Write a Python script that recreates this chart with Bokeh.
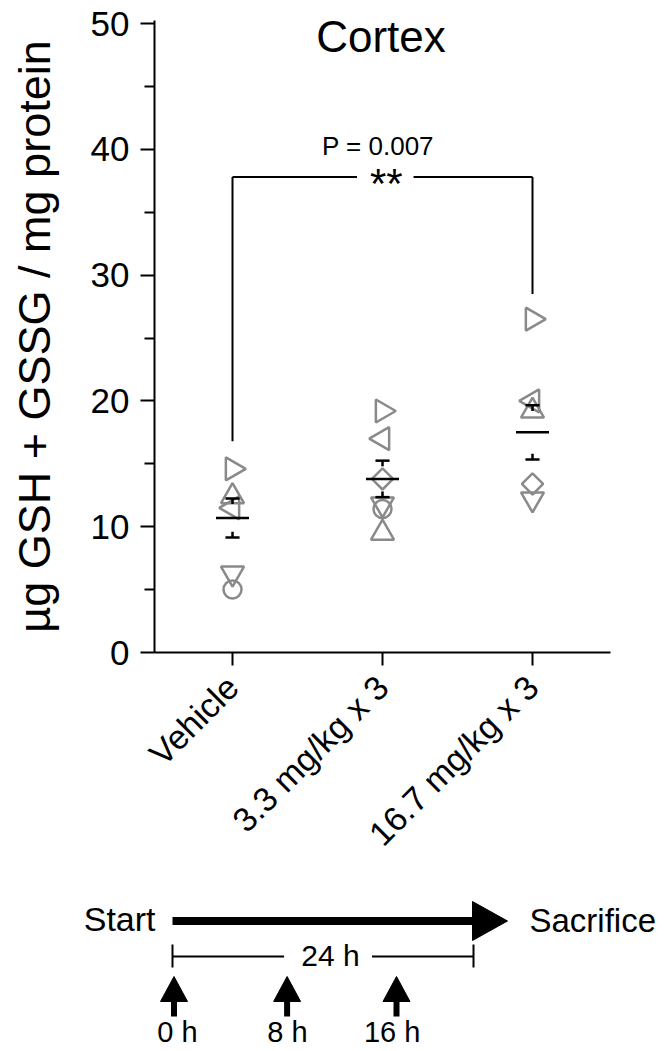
import math
from bokeh.plotting import figure
from bokeh.models import Range1d, FixedTicker, ColumnDataSource, BoxAnnotation
from bokeh.core.properties import value, field
from bokeh.embed import file_html
from bokeh.resources import INLINE

FONT = "Liberation Sans"

# ---------------- data ----------------
groups = ["Vehicle", "3.3 mg/kg x 3", "16.7 mg/kg x 3"]
group_pos = [1, 2, 3]

vehicle_vals = [14.6, 12.4, 11.5, 6.3, 5.0]
vehicle_shape = ["right", "up", "left", "down", "circle"]
low_vals = [19.2, 17.0, 13.8, 11.8, 11.4, 9.5]
low_shape = ["right", "left", "diamond", "down", "circle", "up"]
high_vals = [26.5, 20.0, 19.2, 13.4, 12.2]
high_shape = ["right", "left", "up", "diamond", "down"]

group_mean = [10.7, 13.8, 17.5]
group_sem = [1.55, 1.45, 2.15]

y_ticks = [0, 10, 20, 30, 40, 50]
y_minor = [5, 15, 25, 35, 45]
y_label = "\u00b5g GSH + GSSG / mg protein"
title_text = "Cortex"

p_text = "P = 0.007"
star_text = "**"
bracket_top = 37.8
bracket_left_low = 16.8
bracket_right_low = 28.5

start_label = "Start"
end_label = "Sacrifice"
span_label = "24 h"
dose_labels = ["0 h", "8 h", "16 h"]

# ---------------- styling ----------------
GRAY = "#8a8a8a"
shape_style = {
    "right": ("triangle", -math.pi / 2, 23),
    "left": ("triangle", math.pi / 2, 23),
    "up": ("triangle", 0.0, 23),
    "down": ("inverted_triangle", 0.0, 23),
    "circle": ("circle", 0.0, 18),
    "diamond": ("square", math.pi / 4, 15),
}

xs, ys, mk, ang, sz = [], [], [], [], []
for pos, vals, shapes in zip(group_pos, [vehicle_vals, low_vals, high_vals],
                             [vehicle_shape, low_shape, high_shape]):
    for v, s in zip(vals, shapes):
        m, a, size = shape_style[s]
        xs.append(pos); ys.append(v); mk.append(m); ang.append(a); sz.append(size)
pts = ColumnDataSource(dict(x=xs, y=ys, marker=mk, angle=ang, size=sz))

W = 660
H_MAIN = 876
FRAME_TOP, FRAME_BOTTOM = 20, 652
p = figure(width=W, height=H_MAIN, x_range=Range1d(0.48, 3.52),
           y_range=Range1d(0, 50.24), output_backend="svg", toolbar_location=None)
p.min_border_left = 154
p.min_border_right = W - 610
p.min_border_top = FRAME_TOP
p.min_border_bottom = H_MAIN - FRAME_BOTTOM
p.outline_line_color = None
p.grid.visible = False

yax = p.yaxis[0]
yax.ticker = FixedTicker(ticks=y_ticks, minor_ticks=y_minor)
yax.axis_label = y_label
yax.axis_line_width = 2
yax.major_tick_line_width = 2
yax.minor_tick_line_width = 2
yax.major_tick_out = 14
yax.major_tick_in = 0
yax.minor_tick_out = 10
yax.minor_tick_in = 0
yax.major_label_standoff = 11
yax.major_label_text_font = FONT
yax.major_label_text_font_size = "35px"
yax.major_label_text_color = "black"
yax.axis_label_text_font = FONT
yax.axis_label_text_font_size = "45px"
yax.axis_label_text_font_style = "normal"
yax.axis_label_text_color = "black"
yax.axis_label_standoff = 28

xax = p.xaxis[0]
xax.ticker = FixedTicker(ticks=group_pos, minor_ticks=[])
xax.major_label_overrides = {pos: g for pos, g in zip(group_pos, groups)}
xax.axis_line_width = 2
xax.major_tick_line_width = 2
xax.major_tick_out = 13
xax.major_tick_in = 0
xax.minor_tick_out = 0
xax.minor_tick_in = 0
xax.major_label_orientation = math.pi / 4
xax.major_label_standoff = 16
xax.major_label_text_font = FONT
xax.major_label_text_font_size = "34px"
xax.major_label_text_color = "black"

# small axis extensions past the origin (the two axes cross)
p.add_layout(BoxAnnotation(left=140, right=154, top=651, bottom=653,
                           left_units="canvas", right_units="canvas",
                           top_units="canvas", bottom_units="canvas",
                           fill_color="black", fill_alpha=1, line_color=None))
p.add_layout(BoxAnnotation(left=153, right=155, top=651, bottom=663,
                           left_units="canvas", right_units="canvas",
                           top_units="canvas", bottom_units="canvas",
                           fill_color="black", fill_alpha=1, line_color=None))

# individual points
p.scatter("x", "y", source=pts, marker=field("marker"), angle=field("angle"),
          size=field("size"), fill_color=None, line_color=GRAY, line_width=2.5)

# mean and SEM
MEAN_HW = 0.11
CAP_HW = 0.047
STEM = 0.45
p.segment(x0=[g - MEAN_HW for g in group_pos], x1=[g + MEAN_HW for g in group_pos],
          y0=group_mean, y1=group_mean, line_color="black", line_width=2.5)
hi = [m + s for m, s in zip(group_mean, group_sem)]
lo = [m - s for m, s in zip(group_mean, group_sem)]
p.segment(x0=[g - CAP_HW for g in group_pos] * 2, x1=[g + CAP_HW for g in group_pos] * 2,
          y0=hi + lo, y1=hi + lo, line_color="black", line_width=2.5)
p.segment(x0=group_pos * 2, x1=group_pos * 2, y0=hi + lo,
          y1=[h - STEM for h in hi] + [l + STEM for l in lo],
          line_color="black", line_width=2.5)

# significance bracket
gap_l, gap_r = 1.83, 2.207
p.segment(x0=[group_pos[0], group_pos[0], gap_r, group_pos[2]],
          x1=[group_pos[0], gap_l, group_pos[2], group_pos[2]],
          y0=[bracket_left_low, bracket_top, bracket_top, bracket_top],
          y1=[bracket_top, bracket_top, bracket_top, bracket_right_low],
          line_color="black", line_width=2)
p.text(x=[1.97], y=[40.26], text=[p_text], text_font=value(FONT),
       text_font_size=value("26px"), text_align="center", text_baseline="alphabetic",
       text_color="black")
p.text(x=[2.025], y=[37.28], text=[star_text], text_font=value(FONT),
       text_font_size=value("42px"), text_align="center", text_baseline="alphabetic",
       text_color="black")
p.text(x=[1.99], y=[48.93], text=[title_text], text_font=value(FONT),
       text_font_size=value("44px"), text_align="center", text_baseline="alphabetic",
       text_color="black")

# ---------------- timeline schematic (pixel coordinates) ----------------
H_TL = 174
tl = figure(width=W, height=H_TL, x_range=Range1d(0, W), y_range=Range1d(H_TL, 0),
            output_backend="svg", toolbar_location=None,
            x_axis_location=None, y_axis_location=None, min_border=0)
tl.outline_line_color = None
tl.grid.visible = False

DY = H_MAIN  # page y of timeline top
T0, T_END = 172, 473
BAR_Y = 920.5 - DY
tl.segment(x0=[T0], x1=[T_END - 1], y0=[BAR_Y], y1=[BAR_Y], line_color="black",
           line_width=8, line_cap="butt")
tl.patches(xs=[[T_END - 1, T_END - 1, T_END + 34]], ys=[[BAR_Y - 19.5, BAR_Y + 19.5, BAR_Y]],
           fill_color="black", line_color="black")
tl.text(x=[155], y=[918.5 - DY], text=[start_label], text_font=value(FONT),
        text_font_size=value("34px"), text_align="right", text_baseline="alphabetic")
tl.text(x=[529], y=[920 - DY], text=[end_label], text_font=value(FONT),
        text_font_size=value("33px"), text_align="left", text_baseline="alphabetic")

SPAN_Y = 956 - DY
tl.segment(x0=[T0, 371.5, T0, T_END], x1=[283.6, T_END, T0, T_END],
           y0=[SPAN_Y, SPAN_Y, SPAN_Y - 12, SPAN_Y - 12],
           y1=[SPAN_Y, SPAN_Y, SPAN_Y + 11, SPAN_Y + 11],
           line_color="black", line_width=2)
tl.text(x=[330], y=[954.5 - DY], text=[span_label], text_font=value(FONT),
        text_font_size=value("30px"), text_align="center", text_baseline="alphabetic")

ARROW_X = [173.5, 286.6, 396]
LABEL_X = [177, 287, 391.7]
tip, base, stem_end = 976 - DY, 1001 - DY, 1016 - DY
tl.patches(xs=[[a - 13.5, a + 13.5, a] for a in ARROW_X],
           ys=[[base, base, tip] for _ in ARROW_X], fill_color="black", line_color="black")
tl.segment(x0=ARROW_X, x1=ARROW_X, y0=[base - 1] * 3, y1=[stem_end] * 3, line_color="black",
           line_width=6, line_cap="butt")
tl.text(x=LABEL_X, y=[1031 - DY] * 3, text=dose_labels, text_font=value(FONT),
        text_font_size=value("29px"), text_align="center", text_baseline="alphabetic")

open("out.html", "w").write(file_html([p, tl], INLINE))
